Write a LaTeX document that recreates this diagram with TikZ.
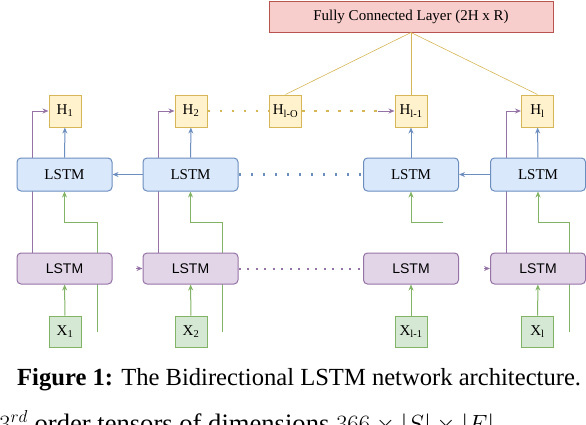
\documentclass[tikz,border=0pt]{standalone}
\usepackage{fontspec}
\setmainfont{Liberation Serif}
\newfontfamily\arialfont{Liberation Sans}
\usetikzlibrary{arrows.meta,calc,backgrounds}
\definecolor{bluefill}{HTML}{DAE8FC}
\definecolor{bluedraw}{HTML}{6C8EBF}
\definecolor{purplefill}{HTML}{E1D5E7}
\definecolor{purpledraw}{HTML}{9673A6}
\definecolor{yellowfill}{HTML}{FFF2CC}
\definecolor{yellowdraw}{HTML}{D6B656}
\definecolor{greenfill}{HTML}{D5E8D4}
\definecolor{greendraw}{HTML}{82B366}
\definecolor{redfill}{HTML}{F8CECC}
\definecolor{reddraw}{HTML}{B85450}
\tikzset{
	fwdlstm/.style={draw=bluedraw, fill=bluefill, line width=1pt, rounded corners=4pt, minimum width=95pt, minimum height=33pt, inner sep=0pt, font=\fontsize{15}{18}\selectfont},
	bwdlstm/.style={draw=purpledraw, fill=purplefill, line width=1pt, rounded corners=4pt, minimum width=95pt, minimum height=31pt, inner sep=0pt, font=\arialfont\fontsize{14}{17}\selectfont},
	hidbox/.style={draw=yellowdraw, fill=yellowfill, line width=1pt, minimum width=32pt, minimum height=32pt, inner sep=0pt, font=\fontsize{15}{18}\selectfont},
	inbox/.style={draw=greendraw, fill=greenfill, line width=1pt, minimum width=32pt, minimum height=31pt, inner sep=0pt, font=\fontsize{15}{18}\selectfont},
	fcbox/.style={draw=reddraw, fill=redfill, line width=1pt, minimum width=284pt, minimum height=31pt, inner sep=0pt, font=\fontsize{15}{18}\selectfont},
	arr/.style={-{Stealth[length=6pt,width=5pt]}, line width=1pt},
	bigdots/.style={line width=2.5pt, dash pattern=on 2.5pt off 9.5pt},
	smalldots/.style={line width=2pt, dash pattern=on 2pt off 6.5pt}
}

\begin{document}
\begin{tikzpicture}[x=1pt, y=-1pt]
		%%%%% START %%%%%
		\useasboundingbox (0, 0) rectangle (586, 424);
		
		\node[fcbox] (fc) at (411, 16.5) {Fully Connected Layer (2H x R)};
		
		\node[hidbox] (h1) at (65, 111) {H\textsubscript{1}};
		\node[hidbox] (h2) at (191, 111) {H\textsubscript{2}};
		\node[hidbox] (hO) at (285.5, 111) {H\textsubscript{l-O}};
		\node[hidbox] (h3) at (411, 111) {H\textsubscript{l-1}};
		\node[hidbox] (h4) at (537.5, 111) {H\textsubscript{l}};
		
		\node[fwdlstm] (f1) at (64.5, 174.5) {LSTM};
		\node[fwdlstm] (f2) at (190.5, 174.5) {LSTM};
		\node[fwdlstm] (f3) at (411, 174.5) {LSTM};
		\node[fwdlstm] (f4) at (538, 174.5) {LSTM};
		
		\node[bwdlstm] (b1) at (64.5, 268.5) {LSTM};
		\node[bwdlstm] (b2) at (190.5, 268.5) {LSTM};
		\node[bwdlstm] (b3) at (411, 268.5) {LSTM};
		\node[bwdlstm] (b4) at (538, 268.5) {LSTM};
		
		\node[inbox] (x1) at (65, 331.5) {X\textsubscript{1}};
		\node[inbox] (x2) at (191, 331.5) {X\textsubscript{2}};
		\node[inbox] (x3) at (411, 331.5) {X\textsubscript{l-1}};
		\node[inbox] (x4) at (537.5, 331.5) {X\textsubscript{l}};
		
		\coordinate (gin1) at (97, 332);
		\coordinate (gin2) at (222, 332);
		\coordinate (gin4) at (569, 332);
		\coordinate (gb1) at (97, 222);
		\coordinate (gb2) at (222, 222);
		\coordinate (gb3) at (443, 222);
		\coordinate (gb4) at (569, 222);
		\coordinate (pa2) at (136, 268.5);
		\coordinate (pa4) at (484, 268.5);
		\coordinate (hd) at (378, 111);
		
		\begin{scope}[on background layer]
			% backward states up to the outputs
			\draw[arr, purpledraw] ($(b1.north west)+(16, 0)$) |- (h1.west);
			\draw[arr, purpledraw] ($(b2.north west)+(16, 0)$) |- (h2.west);
			\draw[arr, purpledraw] ($(b4.north west)+(16, 0)$) |- (h4.west);
			% inputs to the forward layer
			\draw[arr, greendraw] (gin1) -- (gb1) -| (f1.south);
			\draw[arr, greendraw] (gin2) -- (gb2) -| (f2.south);
			\draw[arr, greendraw] (gb3) -| (f3.south);
			\draw[arr, greendraw] (gin4) -- (gb4) -| (f4.south);
		\end{scope}
		
		\draw[arr, greendraw] (x1) -- (b1);
		\draw[arr, greendraw] (x2) -- (b2);
		\draw[arr, greendraw] (x3) -- (b3);
		\draw[arr, greendraw] (x4) -- (b4);
		
		\draw[arr, bluedraw] (f1) -- (h1);
		\draw[arr, bluedraw] (f2) -- (h2);
		\draw[arr, bluedraw] (f3) -- (h3);
		\draw[arr, bluedraw] (f4) -- (h4);
		
		\draw[arr, bluedraw] (f2) -- (f1);
		\draw[arr, bluedraw] (f4) -- (f3);
		\draw[bigdots, bluedraw] (f2.east) -- (f3.west);
		
		\draw[arr, purpledraw] (pa2) -- (b2.west);
		\draw[arr, purpledraw] (pa4) -- (b4.west);
		\draw[smalldots, purpledraw] (b2.east) -- (b3.west);
		
		\draw[bigdots, yellowdraw] (h2.east) -- (hO.west);
		\draw[bigdots, yellowdraw] (hO.east) -- (hd);
		\draw[arr, purpledraw] (hd) -- (h3.west);
		
		\draw[line width=0.6pt, yellowdraw] (fc.south) -- (hO.north);
		\draw[line width=0.6pt, yellowdraw] (fc.south) -- (h3.north);
		\draw[line width=0.6pt, yellowdraw] (fc.south) -- (h4.north);
		
		\node[anchor=base west, inner sep=0pt] (cap) at (17, 385) {\fontsize{24.6}{28}\selectfont\textbf{Figure 1:} The Bidirectional LSTM network architecture.};
		\node[anchor=base west, inner sep=0pt] (tail) at (-1, 432) {\fontsize{26.6}{30}\selectfont $3^{rd}$ order tensors of dimensions $366 \times |S| \times |F|$};
		
		%%%%% END %%%%%
	\end{tikzpicture}
\end{document}
